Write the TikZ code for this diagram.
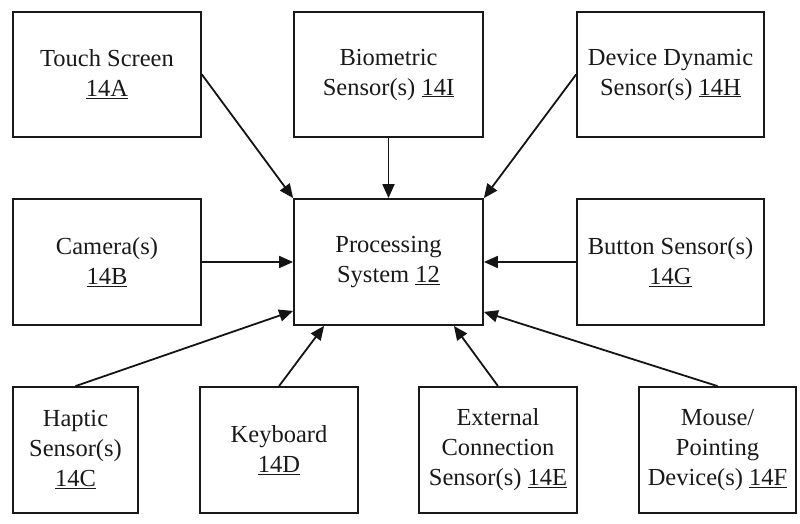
\documentclass[tikz,border=0pt]{standalone}
\usepackage{fontspec}
\setmainfont{Liberation Serif}
\usetikzlibrary{arrows.meta,calc}
\newcommand\unum[1]{\underline{#1}}
\begin{document}
\begin{tikzpicture}[x=1pt,y=1pt,
  box/.style={draw=black!90,line width=1.8pt,rectangle,inner sep=0pt,align=center,
    font=\fontsize{24.5}{30}\selectfont,text=black!90},
  conn/.style={draw=black!92,line width=1.8pt,-{Triangle[length=14pt,width=12pt]}}]
\useasboundingbox (0,0) rectangle (800,-524);
\node[box,minimum width=188,minimum height=125] (ts) at (107,-74.5) {Touch Screen\\\unum{14A}};
\node[box,minimum width=189,minimum height=125] (bio) at (388.5,-74.5) {Biometric\\Sensor(s) \unum{14I}};
\node[box,minimum width=187,minimum height=125] (dd) at (670.5,-74.5) {Device Dynamic\\Sensor(s) \unum{14H}};
\node[box,minimum width=188,minimum height=126] (cam) at (107,-262) {Camera(s)\\\unum{14B}};
\node[box,minimum width=189,minimum height=126] (proc) at (388.5,-262) {Processing\\System \unum{12}};
\node[box,minimum width=187,minimum height=126] (btn) at (670.5,-262) {Button Sensor(s)\\\unum{14G}};
\node[box,minimum width=125,minimum height=126] (hap) at (75.5,-450) {Haptic\\Sensor(s)\\\unum{14C}};
\node[box,minimum width=158,minimum height=126] (kb) at (279,-450) {Keyboard\\\unum{14D}};
\node[box,minimum width=158,minimum height=126] (ext) at (498,-450) {External\\Connection\\Sensor(s) \unum{14E}};
\node[box,minimum width=157,minimum height=126] (mouse) at (717.5,-450) {Mouse/\\Pointing\\Device(s) \unum{14F}};
\coordinate (pHap) at ($(proc.south west)+(0,15)$);
\coordinate (pKb) at ($(proc.south west)+(31,0)$);
\coordinate (pExt) at ($(proc.south east)+(-30,0)$);
\coordinate (pMouse) at ($(proc.south east)+(0,14)$);
\draw[conn] (ts.east) -- (proc.north west);
\draw[conn] (bio.south) -- (proc.north);
\draw[conn] (dd.west) -- (proc.north east);
\draw[conn] (cam.east) -- (proc.west);
\draw[conn] (btn.west) -- (proc.east);
\draw[conn] (hap.north) -- (pHap);
\draw[conn] (kb.north) -- (pKb);
\draw[conn] (ext.north) -- (pExt);
\draw[conn] (mouse.north) -- (pMouse);
\end{tikzpicture}
\end{document}
